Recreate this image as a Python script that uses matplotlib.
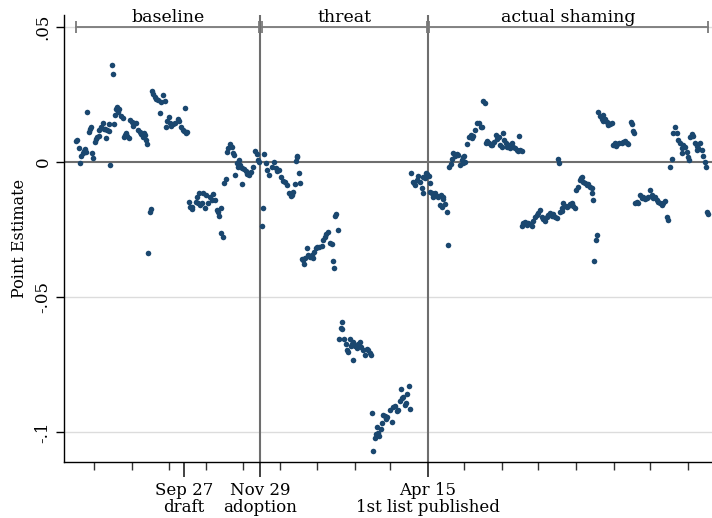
import datetime as dt
import matplotlib
matplotlib.use("Agg")
import matplotlib.pyplot as plt

plt.rcParams['font.family'] = ['DejaVu Serif']

# x = days relative to adoption (Nov 29), y = point estimate
adoption = dt.date(2011, 11, 29)

baseline_days = [
    -122.3, -121.2, -142.4, -150.6, -151.4, -149.5, -144.3, -145.1, -146.2, -147.3,
    -143.5, -148.6, -138.5, -137.4, -141.2, -140.2, -139.6, -136.3, -135.2, -134.2,
    -133.0, -132.5, -130.9, -129.7, -128.6, -127.6, -126.4, -124.8, -127.2, -124.3,
    -120.4, -123.5, -118.8, -117.7, -116.3, -116.9, -119.3, -114.4, -113.0, -111.6,
    -110.3, -109.5, -108.1, -112.2, -107.5, -105.8, -104.0, -102.3, -105.0, -100.7,
    -99.0, -97.9, -96.8, -95.7, -94.7, -96.3, -94.1, -93.0, -90.8, -89.7,
    -92.2, -89.1, -88.1, -86.9, -85.8, -84.2, -82.0, -80.3, -78.7, -82.3,
    -74.9, -76.5, -74.3, -73.3, -71.6, -70.0, -67.7, -66.7, -77.6, -65.5,
    -63.9, -62.8, -61.2, -60.1, -62.0, -58.9, -57.9, -56.2, -52.3, -50.5,
    -46.9, -44.9, -41.4, -39.2, -37.3, -52.9, -51.0, -48.2, -45.5, -42.8,
    -40.0, -56.5, -49.6, -35.9, -33.7, -32.6, -34.6, -32.1, -30.9, -29.6,
    -28.5, -27.7, -26.3, -24.9, -23.5, -22.7, -21.9, -20.6, -19.4, -17.8,
    -16.7, -15.1, -13.4, -11.8, -9.9, -7.9, -6.3, -18.1, -14.8, -10.7,
    -9.1, -4.4, -3.0, -1.6, -0.8,
]
baseline_est = [
    .0358, .0325, .0184, .0080, .0077, .0053, .0048, .0041, .0032, .0022,
    .0037, -.0005, .0033, .0016, .0110, .0121, .0129, .0075, .0084, .0091,
    .0097, .0119, .0131, .0146, .0122, .0121, .0119, .0115, .0088, .0140,
    .0140, -.0011, .0197, .0203, .0197, .0184, .0173, .0170, .0164, .0100,
    .0109, .0095, .0090, .0094, .0154, .0148, .0144, .0144, .0133, .0119,
    .0111, .0104, .0099, .0106, .0100, .0094, .0081, .0066, -.0184, -.0175,
    -.0337, .0264, .0253, .0242, .0234, .0230, .0222, .0247, .0227, .0180,
    .0168, .0151, .0146, .0133, .0141, .0143, .0159, .0153, .0129, .0131,
    .0119, .0114, .0109, .0111, .0199, -.0148, -.0166, -.0173, -.0129, -.0114,
    -.0114, -.0122, -.0129, -.0119, -.0141, -.0147, -.0151, -.0153, -.0171, -.0153,
    -.0141, -.0166, -.0159, -.0178, -.0200, -.0171, -.0184, -.0262, -.0277, -.0077,
    -.0064, .0038, .0051, .0067, .0057, .0034, .0026, -.0047, -.0005, .0007,
    -.0012, -.0023, -.0025, -.0032, -.0040, -.0036, -.0017, -.0017, -.0081, -.0044,
    -.0049, .0042, .0030, .0007, .0000,
]

threat_days = [
    2.0, 1.6, 3.0, 4.7, 5.8, 7.4, 9.4, 11.3, 12.9, 14.0,
    15.6, 16.8, 18.4, 20.1, 21.7, 23.4, 25.0, 26.7, 28.3, 30.0,
    30.5, 29.4, 31.6, 32.7, 25.8,
    62.3, 61.5, 64.2, 56.0, 54.1, 51.9, 53.3, 57.4, 58.8, 50.5,
    48.6, 46.9, 45.8, 44.2, 42.3, 40.9, 39.5, 38.2, 36.8, 35.4,
    34.1, 36.0, 60.1, 60.9, 43.1,
    67.0, 66.2, 67.5, 65.0, 68.9, 70.5, 71.6, 73.8, 75.2, 76.5,
    77.9, 79.3, 80.7, 82.1, 82.6, 84.3, 86.2, 87.6, 88.9, 90.3,
    90.9, 72.4, 76.5, 74.7,
    92.2, 93.0, 94.4, 95.2, 96.3, 97.9, 99.1, 100.2, 101.2, 102.9,
    104.5, 106.7, 108.1, 109.5, 110.9, 112.3, 113.6, 115.0, 116.4, 117.7,
    119.1, 119.9, 121.0, 122.4, 123.2, 115.6, 97.1, 103.5,
    123.8, 125.4, 126.5, 127.6, 130.0, 131.4, 132.8, 133.7, 135.6, 137.0,
    128.7, 134.2, 136.6,
]
threat_est = [
    -.0169, -.0236, .0029, -.0005, -.0030, -.0047, -.0017, .0000, -.0022, -.0032,
    -.0030, -.0057, -.0069, -.0074, -.0086, -.0116, -.0126, -.0111, -.0081, .0017,
    .0022, .0003, -.0040, -.0077, -.0122,
    -.0193, -.0200, -.0252, -.0258, -.0267, -.0289, -.0277, -.0301, -.0304, -.0311,
    -.0314, -.0316, -.0320, -.0332, -.0344, -.0351, -.0344, -.0320, -.0357, -.0363,
    -.0360, -.0378, -.0366, -.0394, -.0357,
    -.0591, -.0616, -.0620, -.0656, -.0657, -.0674, -.0696, -.0657, -.0674, -.0666,
    -.0681, -.0690, -.0674, -.0667, -.0684, -.0696, -.0715, -.0694, -.0696, -.0709,
    -.0715, -.0703, -.0734, -.0681,
    -.0931, -.1071, -.1023, -.1007, -.0983, -.1015, -.0990, -.0966, -.0937, -.0941,
    -.0946, -.0919, -.0962, -.0906, -.0904, -.0921, -.0919, -.0884, -.0875, -.0869,
    -.0900, -.0891, -.0859, -.0830, -.0916, -.0842, -.1005, -.0953,
    -.0042, -.0073, -.0079, -.0085, -.0052, -.0073, -.0097, -.0116, -.0060, -.0044,
    -.0067, -.0054, -.0042,
]

shaming_days = [
    139.1, 139.4, 139.7, 141.1, 142.4, 143.8, 145.2, 141.9, 146.5, 148.5,
    150.1, 150.6, 147.9, 149.3, 152.3, 153.4, 154.5, 155.6, 156.7, 157.5,
    158.8, 160.2, 161.6, 163.0, 164.4, 165.8, 167.1, 168.5, 166.6, 167.9,
    170.4, 172.0, 173.2, 174.8, 176.7, 178.6, 180.2, 181.4, 182.5, 174.0,
    183.5, 184.7, 185.8, 186.8, 188.5, 189.6, 190.7, 192.3, 194.0, 195.1,
    196.7, 197.3, 198.7, 199.5, 200.6, 202.2, 203.3, 204.4, 205.5, 206.9,
    208.2, 209.6, 211.0, 212.3, 213.7, 212.7, 215.1, 244.8, 245.8,
    215.1, 216.5, 217.9, 219.3, 220.6, 222.0, 223.4, 224.7, 226.1, 227.5,
    228.8, 230.2, 231.6, 232.9, 234.3, 235.7, 237.0, 238.4, 239.8, 241.2,
    242.6, 243.9, 246.7, 248.1, 249.4, 250.8, 252.2, 253.5, 254.9, 256.3,
    257.6, 259.0, 248.1, 260.2, 261.2, 262.9, 264.1, 264.8, 265.8, 267.2,
    268.6, 270.0, 271.4, 272.8, 273.3, 274.1, 276.9, 276.0, 274.9,
    278.2, 279.6, 281.0, 282.3, 283.7, 285.1, 286.4, 287.8, 289.2, 281.8,
    286.4, 290.5, 291.9, 293.8, 295.5, 297.4, 298.8, 300.2, 301.6, 302.9,
    293.2, 304.9, 305.8, 306.6, 307.6,
    308.4, 309.8, 311.1, 312.5, 313.9, 315.2, 316.6, 318.0, 319.3, 320.7,
    322.1, 323.5, 324.9, 326.3, 327.6, 329.0, 330.4, 331.7, 333.1, 334.5,
    335.8, 337.2, 338.6, 339.4, 341.3, 342.7, 344.0, 345.4, 346.8, 348.1,
    349.5, 350.9, 352.3, 353.1, 346.8, 353.7, 355.1, 356.4, 357.8, 359.2,
    360.5, 361.9, 363.3, 364.6, 366.0, 366.8, 359.7, 367.4, 368.7,
]
shaming_est = [
    -.0052, -.0079, -.0110, -.0116, -.0122, -.0114, -.0126, -.0131, -.0131, -.0122,
    -.0129, -.0138, -.0159, -.0166, -.0156, -.0186, -.0309, -.0020, -.0007, .0011,
    .0034, .0022, .0030, .0026, -.0011, .0007, .0017, .0001, -.0005, .0022,
    .0067, .0091, .0100, .0096, .0119, .0143, .0146, .0131, .0129, .0088,
    .0226, .0217, .0069, .0079, .0071, .0063, .0063, .0075, .0100, .0084,
    .0091, .0063, .0057, .0106, .0081, .0071, .0057, .0063, .0051, .0069,
    .0057, .0051, .0044, .0042, .0044, .0097, .0041, .0011, -.0005,
    -.0237, -.0227, -.0221, -.0233, -.0225, -.0230, -.0237, -.0217, -.0205, -.0196,
    -.0188, -.0178, -.0203, -.0212, -.0217, -.0203, -.0196, -.0188, -.0200, -.0193,
    -.0203, -.0206, -.0184, -.0171, -.0153, -.0163, -.0168, -.0163, -.0156, -.0151,
    -.0163, -.0171, -.0180, -.0104, -.0094, -.0067, -.0060, -.0054, -.0073, -.0079,
    -.0085, -.0081, -.0091, -.0097, -.0116, -.0141, -.0270, -.0289, -.0367,
    .0186, .0170, .0158, .0153, .0158, .0149, .0146, .0141, .0146, .0174,
    .0137, .0063, .0069, .0067, .0071, .0069, .0075, .0079, .0071, .0067,
    .0059, .0149, .0141, .0116, .0109,
    -.0153, -.0147, -.0151, -.0122, -.0134, -.0131, -.0138, -.0134, -.0129, -.0104,
    -.0122, -.0134, -.0129, -.0141, -.0147, -.0153, -.0159, -.0151, -.0143, -.0203,
    -.0215, -.0017, .0010, .0109, .0131, .0106, .0081, .0069, .0051, .0063,
    .0057, .0038, .0020, .0007, .0032, .0094, .0104, .0096, .0069, .0059,
    .0051, .0069, .0044, .0022, .0001, -.0017, .0044, -.0184, -.0193,
]

periods = ["baseline", "threat", "actual shaming"]
event_dates = [dt.date(2011, 9, 27), dt.date(2011, 11, 29), dt.date(2012, 4, 15)]
event_labels = ["Sep 27\ndraft", "Nov 29\nadoption", "Apr 15\n1st list published"]
month_ticks = [dt.date(2011 + (m - 1) // 12, (m - 1) % 12 + 1, 15) for m in range(7, 24)]
y_ticks = [0.05, 0, -0.05, -0.1]
y_labels = [".05", "0", "-.05", "-.1"]


def day(d):
    return (d - adoption).days


navy = '#1a476f'
fig = plt.figure(figsize=(7.12, 5.18), dpi=100)
ax = fig.add_axes([0.0899, 0.108, 0.91, 0.863])

# reference lines
for yv in [0.05, -0.05, -0.1]:
    ax.axhline(yv, color='#dcdcdc', lw=1.0, zorder=0)
ax.axhline(0, color='#6e6e6e', lw=1.5, zorder=1)
for d in event_dates[1:]:
    ax.axvline(day(d), color='#6e6e6e', lw=1.5, zorder=1)

ax.scatter(baseline_days + threat_days + shaming_days,
           baseline_est + threat_est + shaming_est,
           s=16, color=navy, linewidths=0, zorder=3)

# period bars across the top
for name, days in zip(periods, [baseline_days, threat_days, shaming_days]):
    lo, hi = min(days), max(days)
    ax.plot([lo, hi], [0.05, 0.05], color='#7a7a7a', lw=1.3, marker='|',
            markersize=9, mew=1.3, clip_on=False, zorder=2)
    ax.annotate(name, xy=((lo + hi) / 2, 0.05), xytext=(0, 1),
                textcoords='offset points', ha='center', va='bottom',
                fontsize=12.5, annotation_clip=False)

ax.set_xlim(-161.6, 371.8)
ax.set_ylim(-0.1111, 0.0544)

ax.set_yticks(y_ticks, y_labels)
ax.set_xticks([day(d) for d in event_dates], event_labels)
ax.set_xticks([day(d) for d in month_ticks], minor=True)
ax.tick_params(axis='y', labelsize=12, length=6, width=1, rotation=90, pad=3)
for lab in ax.get_yticklabels():
    lab.set_va('center')
ax.tick_params(axis='x', which='major', labelsize=12, length=11, width=1.3,
               color='#333333', pad=3)
ax.tick_params(axis='x', which='minor', length=6, width=1, color='#333333')
for lab in ax.get_xticklabels():
    lab.set_linespacing(1.0)

ax.set_ylabel("Point Estimate", fontsize=11.5, labelpad=5)
for s in ['top', 'right']:
    ax.spines[s].set_visible(False)
for s in ['left', 'bottom']:
    ax.spines[s].set_linewidth(1.0)

fig.savefig("out.png", dpi=100)
